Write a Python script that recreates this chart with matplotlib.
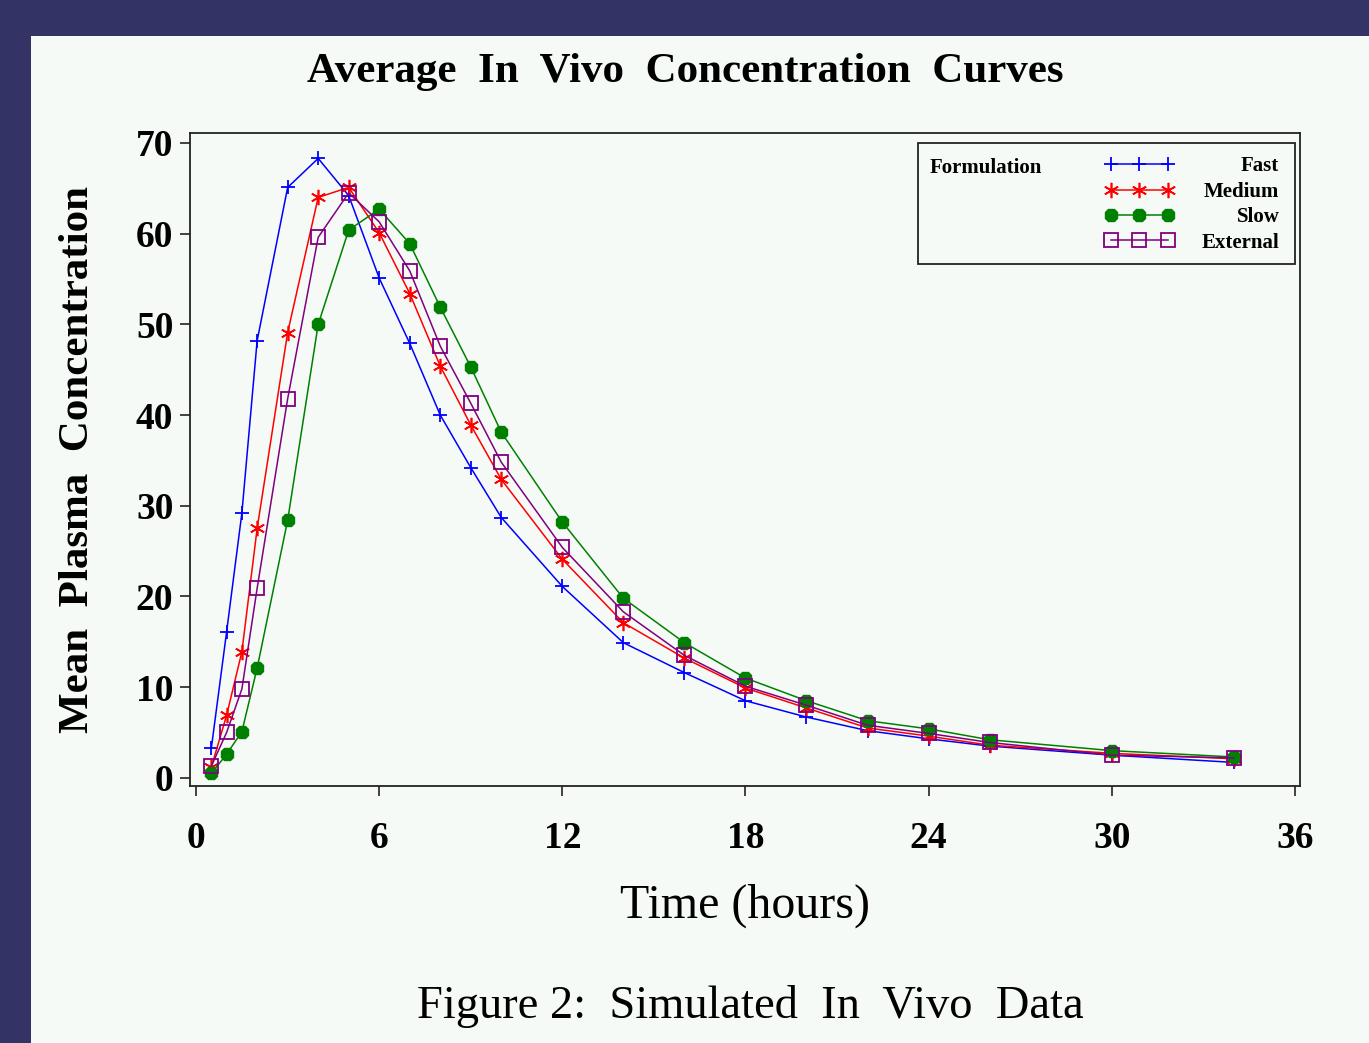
import matplotlib.pyplot as plt
from matplotlib.patches import Rectangle

# mean plasma concentration by formulation
time_h = [0.5, 1, 1.5, 2, 3, 4, 5, 6, 7, 8, 9, 10, 12, 14, 16, 18, 20, 22, 24, 26, 30, 34]
fast = [3.3, 16.1, 29.2, 48.2, 65.1, 68.3, 64.2, 55.1, 47.9, 40.0, 34.2, 28.7,
        21.1, 14.9, 11.6, 8.5, 6.7, 5.2, 4.3, 3.5, 2.5, 1.7]
medium = [1.2, 6.9, 13.9, 27.5, 49.1, 64.0, 65.1, 60.1, 53.4, 45.4, 38.9, 32.9,
          24.1, 17.1, 13.2, 9.9, 7.7, 5.5, 4.6, 3.6, 2.7, 2.1]
slow = [0.5, 2.6, 5.1, 12.1, 28.4, 50.0, 60.4, 62.7, 58.9, 51.9, 45.3, 38.1,
        28.2, 19.8, 14.9, 11.0, 8.5, 6.3, 5.4, 4.2, 3.0, 2.3]
external = [1.3, 5.0, 9.8, 20.9, 41.8, 59.6, 64.5, 61.3, 55.9, 47.6, 41.3, 34.8,
            25.4, 18.3, 13.5, 10.1, 8.0, 5.8, 4.9, 3.9, 2.5, 2.2]

labels = ['Fast', 'Medium', 'Slow', 'External']
colors = ['#0000ff', '#ff0000', '#008000', '#800080']
x_ticks = [0, 6, 12, 18, 24, 30, 36]
y_ticks = [0, 10, 20, 30, 40, 50, 60, 70]

navy = '#333366'
panel = '#f5faf6'
plt.rcParams['font.family'] = ['Liberation Serif', 'DejaVu Serif']

fig = plt.figure(figsize=(13.69, 10.43), dpi=100, facecolor=navy)
fig.add_artist(Rectangle((31 / 1369, 0), 1, 1 - 36 / 1043, transform=fig.transFigure,
                         facecolor=panel, edgecolor='none', zorder=0))

ax = fig.add_axes([190 / 1369, 1 - 786 / 1043, 1110 / 1369, 653 / 1043])
ax.set_facecolor(panel)

ax.plot(time_h, fast, color=colors[0], lw=1.1, marker='+', ms=10, mew=1.3, label=labels[0])
ax.plot(time_h, medium, color=colors[1], lw=1.1, marker=(6, 2, 0), ms=11, mew=1.2, label=labels[1])
ax.plot(time_h, slow, color=colors[2], lw=1.1, marker='8', ms=10, label=labels[2])
ax.plot(time_h, external, color=colors[3], lw=1.1, marker='s', ms=10, mfc='none', mew=1.3,
        label=labels[3])

ax.set_xlim(-0.2, 36.17)
ax.set_ylim(-0.9, 71.1)
ax.set_xticks(x_ticks)
ax.set_yticks(y_ticks)
for s in ax.spines.values():
    s.set_color('#222222')
    s.set_linewidth(1.3)
ax.tick_params(axis='both', direction='out', length=7, width=1.2, color='#222222')
ax.tick_params(axis='x', pad=18)
ax.tick_params(axis='y', pad=5)
for t in ax.get_xticklabels() + ax.get_yticklabels():
    t.set_fontsize(27)
    t.set_fontweight('bold')

ax.set_xlabel('Time (hours)', fontsize=34.5, labelpad=20)
ax.set_ylabel('Mean  Plasma  Concentration', fontsize=31, fontweight='bold', labelpad=28)
fig.text(685 / 1369, 1 - 72 / 1043, 'Average  In  Vivo  Concentration  Curves',
         fontsize=31, fontweight='bold', ha='center', va='center')
fig.text(750 / 1369, 1 - 1007 / 1043, 'Figure 2:  Simulated  In  Vivo  Data',
         fontsize=33.5, ha='center', va='center')

# legend box with "Formulation" on the left, labels right aligned
ax.add_patch(Rectangle((0.656, 0.7994), 0.3395, 0.1853, transform=ax.transAxes,
                       facecolor='none', edgecolor='#222222', lw=1.3, zorder=5))
ax.text(0.6667, 0.947, 'Formulation', transform=ax.transAxes, fontsize=15,
        fontweight='bold', va='center', ha='left')
leg = ax.legend(loc='upper right', bbox_to_anchor=(0.9908, 0.980), frameon=False,
                numpoints=3, handlelength=3.37, handletextpad=1.3, labelspacing=0.26,
                borderpad=0, prop={'family': 'Liberation Serif', 'weight': 'bold', 'size': 15})
fig.canvas.draw()
renderer = fig.canvas.get_renderer()
widths = [t.get_window_extent(renderer).width for t in leg.get_texts()]
for t, w in zip(leg.get_texts(), widths):
    t.set_position((max(widths) - w, 0))

fig.savefig('out.png', dpi=100, facecolor=navy)
